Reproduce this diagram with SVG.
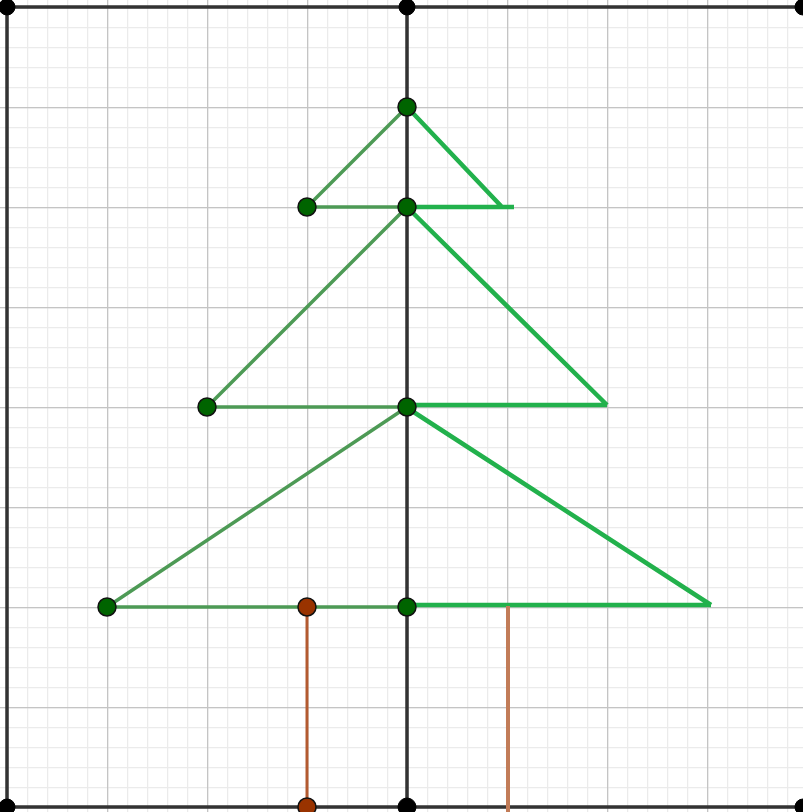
<svg xmlns="http://www.w3.org/2000/svg" width="803" height="812" viewBox="0 0 803 812">
<defs>
<pattern id="minor" x="7" y="7" width="20" height="20" patternUnits="userSpaceOnUse">
<path d="M0.5 0V20M0 0.5H20" stroke="#ebebeb" stroke-width="1.5" fill="none"/>
</pattern>
<pattern id="major" x="7" y="7" width="100" height="100" patternUnits="userSpaceOnUse">
<path d="M0.5 0V100M0 0.5H100" stroke="#c4c4c4" stroke-width="1.5" fill="none"/>
</pattern>
</defs>
<style>
.axis{stroke:#333;stroke-width:3.5;fill:none}
.left{stroke:#4d9a55;stroke-width:3.5;fill:none;stroke-linejoin:round}
.right{stroke:#22b14c;stroke-width:4.5;fill:none}
.trunkL{stroke:#b35a30;stroke-width:3;fill:none}
.trunkR{stroke:#c27c58;stroke-width:4;fill:none}
.pg{fill:#006400;stroke:#111;stroke-width:1.5}
.pb{fill:#993300;stroke:#111;stroke-width:1.5}
.pk{fill:#000;stroke:#000;stroke-width:1}
</style>
<rect width="803" height="812" fill="#fff"/>
<rect x="0" y="0" width="803" height="812" fill="url(#minor)"/>
<rect x="0" y="0" width="803" height="812" fill="url(#major)"/>
<g id="connectors">
<path class="axis" d="M7 7H803M7 7V807M7 807H803M407 7V807"/>
<path class="left" d="M407 107L307 207H407M407 207L207 407H407M407 407L107 607H407"/>
<path class="right" d="M409 109L502 207M409 207H514M409 209L607 405M409 405H607M409 409L711 605M409 605H711"/>
<path class="trunkL" d="M307 607V807"/>
<path class="trunkR" d="M508 606V812"/>
</g>
<g id="points">
<circle id="p1" class="pk" cx="7" cy="7" r="8"/>
<circle id="p2" class="pk" cx="407" cy="7" r="8"/>
<circle id="p3" class="pk" cx="803" cy="7" r="8"/>
<circle id="p4" class="pk" cx="7" cy="807" r="8"/>
<circle id="p5" class="pk" cx="803" cy="807" r="8"/>
<circle id="p6" class="pk" cx="407" cy="807" r="9"/>
<circle id="p7" class="pb" cx="307" cy="807" r="9"/>
<circle id="p8" class="pg" cx="407" cy="107" r="9"/>
<circle id="p9" class="pg" cx="307" cy="207" r="9"/>
<circle id="p10" class="pg" cx="407" cy="207" r="9"/>
<circle id="p11" class="pg" cx="207" cy="407" r="9"/>
<circle id="p12" class="pg" cx="407" cy="407" r="9"/>
<circle id="p13" class="pg" cx="107" cy="607" r="9"/>
<circle id="p14" class="pg" cx="407" cy="607" r="9"/>
<circle id="p15" class="pb" cx="307" cy="607" r="9"/>
</g>
</svg>
